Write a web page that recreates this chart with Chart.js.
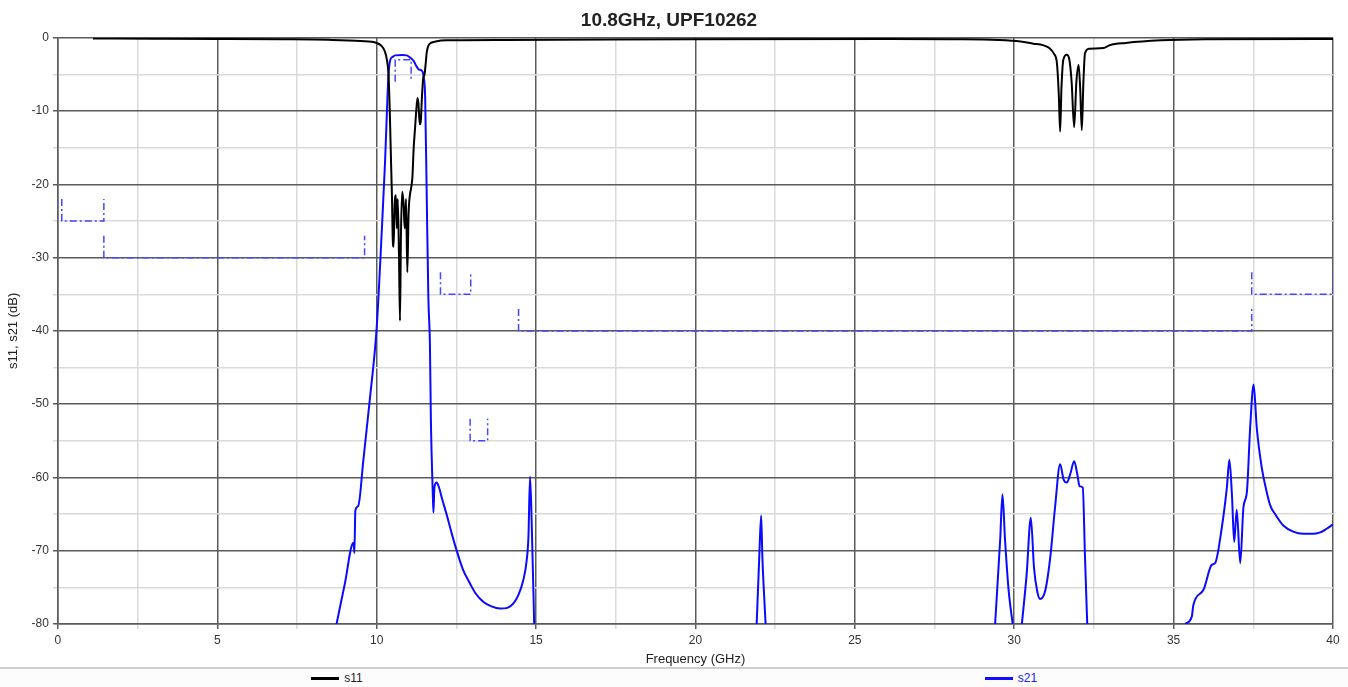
<!DOCTYPE html>
<html>
<head>
<meta charset="utf-8">
<script src="https://cdn.jsdelivr.net/npm/chart.js@4.4.1/dist/chart.umd.min.js"></script>
<style>
  body { margin: 0; background: #fff; font-family: "Liberation Sans", Arial, sans-serif; }
  #wrap { width: 1348px; height: 687px; position: relative; }
  #legend { position: absolute; left: 0; top: 667px; width: 1348px; height: 20px;
            border-top: 2px solid #cfcfcf; box-sizing: border-box; display: flex; background: #fcfcfc; }
  .half { width: 674px; display: flex; justify-content: center; align-items: center; font-size: 12px; }
  .swatch { display: inline-block; width: 28px; height: 3px; margin-right: 5px; }
</style>
</head>
<body>
<div id="wrap">
  <canvas id="myChart" width="1348" height="667"></canvas>
  <div id="legend">
    <div class="half"><span class="swatch" style="background:#000"></span><span style="color:#222">s11</span></div>
    <div class="half"><span class="swatch" style="background:#1010ff"></span><span style="color:#2020ff">s21</span></div>
  </div>
</div>
<script>
// s11 trace (GHz, dB)
const s11Freq = [1.1, 3, 5, 7, 8.5, 9.5, 10.0, 10.15, 10.25, 10.32, 10.37, 10.41, 10.45, 10.48, 10.5, 10.53, 10.56, 10.6,
  10.63, 10.66, 10.7, 10.73, 10.76, 10.8, 10.84, 10.88, 10.92, 10.96, 11.0, 11.04, 11.08, 11.12, 11.16, 11.2, 11.24,
  11.28, 11.31, 11.35, 11.38, 11.42, 11.46, 11.5, 11.53, 11.57, 11.62, 11.7, 11.85, 12.2, 14, 20, 26, 28, 29.5, 30.2,
  30.6, 30.9, 31.1, 31.25, 31.34, 31.4, 31.44, 31.48, 31.54, 31.65, 31.73, 31.8, 31.88, 31.95, 32.02, 32.07, 32.12,
  32.17, 32.22, 32.35, 32.8, 33.0, 33.5, 34.6, 36, 40];
const s11Db = [-0.1, -0.12, -0.15, -0.2, -0.28, -0.45, -0.7, -1.1, -1.8, -3.0, -5, -10, -17, -22, -27, -28.5, -23, -21.5,
  -26, -22, -30, -38.6, -27, -21, -22.5, -26, -22, -32, -24, -21.5, -20.5, -19, -15, -12.5, -10,
  -8.2, -9, -11.8, -11.5, -8, -5.5, -5, -3.8, -2, -1.1, -0.7, -0.5, -0.35, -0.3, -0.2, -0.15, -0.2, -0.3, -0.5,
  -0.8, -1.0, -1.4, -2.2, -3.5, -8, -12.8, -7, -3.0, -2.3, -3.0, -6, -12.2, -6, -3.7, -7, -12.6,
  -6, -2.1, -1.5, -1.4, -1.0, -0.7, -0.35, -0.2, -0.15];

// s21 trace (GHz, dB); null = below the -80 dB floor
const s21Freq = [8.74, 9.0, 9.27, 9.3, 9.33, 9.42, 9.58, 9.79, 10.0, 10.16, 10.26, 10.33, 10.36, 10.42, 10.5, 10.58, 10.8,
  10.94, 11.05, 11.15, 11.25, 11.31, 11.42, 11.48, 11.52, 11.57, 11.62, 11.67, 11.7, 11.76, 11.78, 11.81, 11.88, 11.95,
  12.05, 12.19, 12.35, 12.51, 12.7, 12.93, 13.1, 13.35, 13.6, 13.87, 14.1, 14.29, 14.45, 14.6, 14.7, 14.76, 14.81,
  14.86, 14.94, 18,
  21.92, 22.0, 22.06, 22.1, 22.2, 26,
  29.4, 29.56, 29.63, 29.71, 29.82, 29.95, 30.1,
  30.24, 30.39, 30.52, 30.62, 30.72, 30.81, 30.97, 31.13, 31.28, 31.44, 31.55, 31.65, 31.76, 31.88, 31.98, 32.05, 32.15,
  32.22, 32.29, 34,
  35.36, 35.57, 35.62, 35.94, 36.2, 36.3, 36.51, 36.67, 36.75, 36.83, 36.9, 36.98, 37.09, 37.19, 37.3, 37.4, 37.51,
  37.61, 37.77, 37.9, 38.03, 38.2, 38.45, 38.75, 39.07, 39.35, 39.6, 39.8, 40];
const s21Db = [-80, -74.5, -68.9, -70.3, -64.5, -63.9, -57.7, -49.1, -39.5, -26.3, -17.1, -9, -5.8, -3.1, -2.6, -2.4, -2.35,
  -2.4, -2.7, -3.1, -3.9, -4.3, -4.5, -5.5, -8.1, -21.8, -35.4, -42, -52.3, -62.3, -64.8, -61.4, -60.7, -61.3,
  -62.9, -65, -67.6, -70, -72.5, -74.5, -75.8, -77, -77.6, -77.9, -77.8, -77.2, -76, -74, -71.5, -68.1, -59.9,
  -65.8, -80, null,
  -80, -71, -65.2, -71, -80, null,
  -80, -68.4, -62.3, -68.4, -75.2, -80, null,
  -80, -73.2, -65.5, -72.3, -75.5, -76.6, -75.5, -70.9, -64.1, -58.2, -60.3, -60.7, -59.5, -57.8, -59.6, -61.2, -61.4,
  -70.9, -80, null,
  -80, -79, -77.4, -75.3, -71.9, -71.7, -66.9, -61.4, -57.6, -62.4, -68.8, -64.4, -71.7, -64.1, -61.9, -53.3, -47.3,
  -53.3, -58.8, -61.6, -63.8, -65.1, -66.6, -67.4, -67.7, -67.7, -67.5, -67.0, -66.4];

// spec mask segments
const maskStart = [0.12, 1.44, 10.58, 12.0, 12.93, 14.45, 37.45];
const maskStop = [1.44, 9.62, 11.08, 12.95, 13.48, 37.45, 40];
const maskLevel = [-25, -30, -3, -35, -55, -40, -35];
const maskTick = [-22, -27, -6, -32, -52, -37, -32];

const xTicks = [0, 5, 10, 15, 20, 25, 30, 35, 40];
const yTicks = [0, -10, -20, -30, -40, -50, -60, -70, -80];

const toPoints = (xs, ys) => xs.map((x, i) => ({ x: x, y: ys[i] }));

let maskPoints = [];
for (let i = 0; i < maskStart.length; i++) {
    maskPoints.push({ x: maskStart[i], y: maskTick[i] });
    maskPoints.push({ x: maskStart[i], y: maskLevel[i] });
    maskPoints.push({ x: maskStop[i], y: maskLevel[i] });
    maskPoints.push({ x: maskStop[i], y: maskTick[i] });
    maskPoints.push({ x: maskStop[i], y: null });
}

const major = '#5a5a5a';
const minor = '#dadada';

var ctx = document.getElementById('myChart');
var myChart = new Chart(ctx, {
    type: 'line',
    data: {
        datasets: [{
            label: 's11',
            data: toPoints(s11Freq, s11Db),
            borderColor: '#000',
            borderWidth: 2,
            pointRadius: 0,
            cubicInterpolationMode: 'monotone'
        }, {
            label: 's21',
            data: toPoints(s21Freq, s21Db),
            borderColor: '#0a0aff',
            borderWidth: 2,
            pointRadius: 0,
            cubicInterpolationMode: 'monotone',
            spanGaps: false
        }, {
            label: 'mask',
            data: maskPoints,
            borderColor: '#4646ff',
            borderWidth: 1.5,
            borderDash: [7, 3, 2, 3],
            pointRadius: 0,
            tension: 0,
            spanGaps: false
        }]
    },
    options: {
        responsive: false,
        animation: false,
        devicePixelRatio: 1,
        layout: { padding: { left: 5, right: 15, top: 0, bottom: 0 } },
        plugins: {
            legend: { display: false },
            tooltip: { enabled: false },
            title: {
                display: true,
                text: '10.8GHz, UPF10262',
                color: '#222',
                font: { family: 'Liberation Sans', size: 19, weight: 'bold' },
                padding: { top: 9, bottom: 6 }
            }
        },
        scales: {
            x: {
                type: 'linear',
                min: 0,
                max: 40,
                ticks: {
                    stepSize: 2.5,
                    autoSkip: false,
                    maxRotation: 0,
                    padding: 4,
                    color: '#333',
                    font: { family: 'Liberation Sans', size: 12 },
                    callback: (v) => xTicks.includes(v) ? v : ''
                },
                grid: {
                    color: (c) => xTicks.includes(c.tick.value) ? major : minor,
                    lineWidth: 1.5,
                    tickLength: 5
                },
                border: { color: major, width: 1.5 },
                title: {
                    display: true,
                    text: 'Frequency (GHz)',
                    color: '#222',
                    font: { family: 'Liberation Sans', size: 13 },
                    padding: { top: 0, bottom: 0 }
                }
            },
            y: {
                min: -80,
                max: 0,
                ticks: {
                    stepSize: 5,
                    autoSkip: false,
                    padding: 4,
                    color: '#333',
                    font: { family: 'Liberation Sans', size: 12 },
                    callback: (v) => yTicks.includes(v) ? v : ''
                },
                grid: {
                    color: (c) => yTicks.includes(c.tick.value) ? major : minor,
                    lineWidth: 1.5,
                    tickLength: 5
                },
                border: { color: major, width: 1.5 },
                title: {
                    display: true,
                    text: 's11, s21 (dB)',
                    color: '#222',
                    font: { family: 'Liberation Sans', size: 13 },
                    padding: { top: 1, bottom: 6 }
                }
            }
        }
    }
});
</script>
</body>
</html>
